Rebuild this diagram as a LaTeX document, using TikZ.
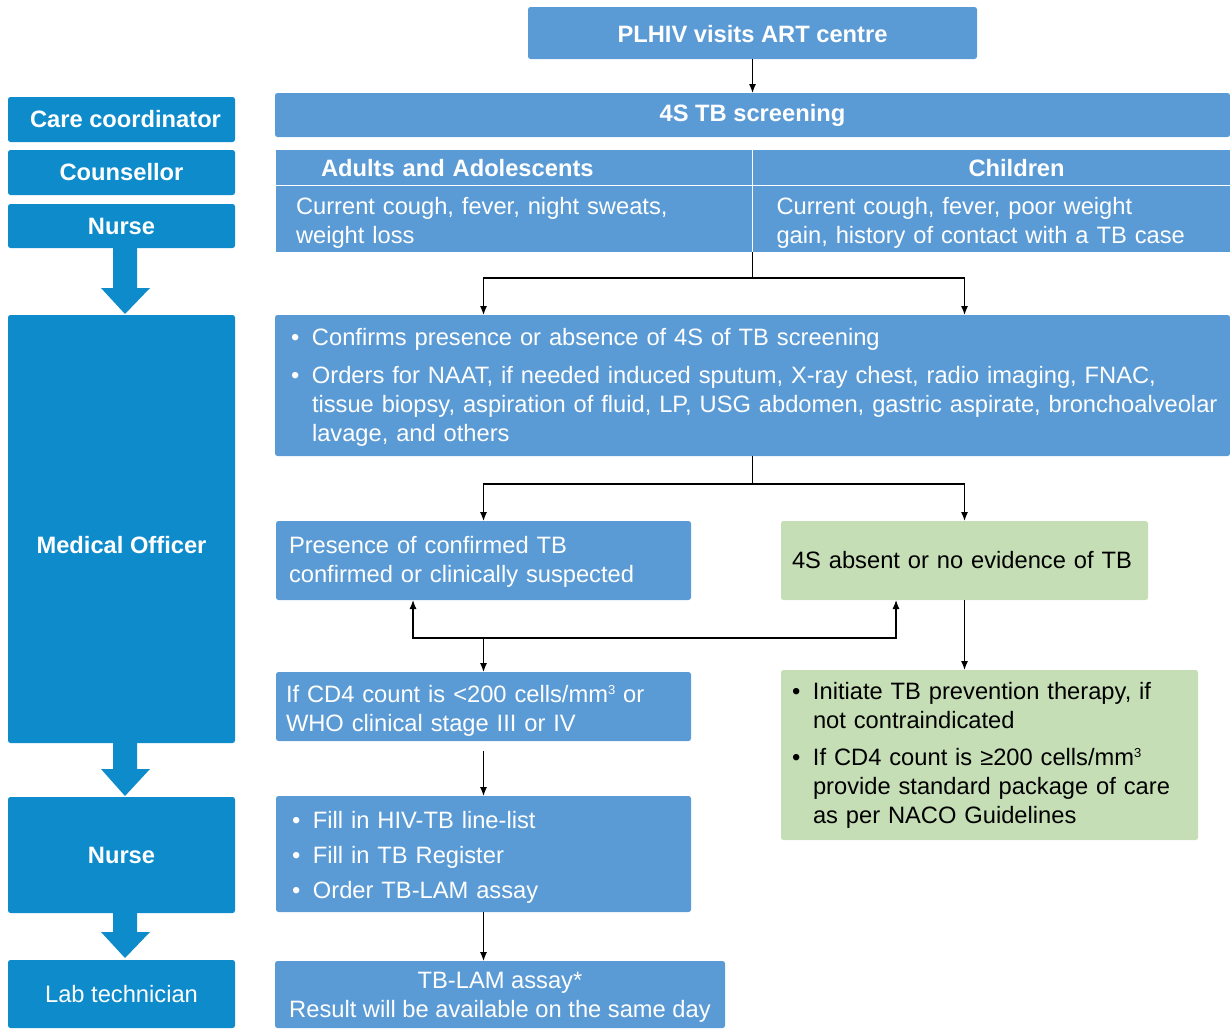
\documentclass[tikz,border=0pt]{standalone}
\usepackage{fontspec}
\setmainfont{Liberation Sans}
\usetikzlibrary{arrows.meta,calc}
\definecolor{lblue}{HTML}{0D8BCB}
\definecolor{rblue}{HTML}{5B9BD5}
\definecolor{lgreen}{HTML}{C5DEB5}
\newcommand\bul{\par\noindent\hangindent=21pt\hangafter=1\makebox[21pt][l]{•}}
\newcommand\cubed{\raisebox{8pt}{\fontsize{13}{13}\selectfont 3}}
\newcommand\fs{\fontsize{23.7}{29}\selectfont}
\newcommand\tall[1]{\rule{0pt}{#1}}
\newcommand\deep[1]{\rule[-#1]{0pt}{0pt}}
\tikzset{
  base/.style={rounded corners=2.5pt, inner sep=0pt, outer sep=0pt, anchor=north west, font=\fs},
  lbox/.style={base, fill=lblue, text=white, align=center, font=\fs\bfseries},
  rbox/.style={base, fill=rblue, text=white},
  gbox/.style={base, fill=lgreen, text=black},
  cell/.style={fill=rblue, text=white, draw=white, line width=1pt, inner sep=0pt, outer sep=0pt, anchor=north west, align=left, font=\fs},
  arr/.style={line width=1.2pt, -{Latex[length=9pt,width=7pt]}},
  ln/.style={line width=1.2pt},
}
\begin{document}
\begin{tikzpicture}[x=1pt,y=-1pt]
\useasboundingbox (0,0) rectangle (1230,1028);
% left column
\node[lbox, minimum width=227pt, minimum height=45pt] (cc) at (8,97) {\hspace*{8pt}Care coordinator};
\node[lbox, minimum width=227pt, minimum height=45pt] (cou) at (8,150) {Counsellor};
\node[lbox, minimum width=227pt, minimum height=44pt] (nur1) at (8,204) {Nurse};
\node[lbox, minimum width=227pt, minimum height=428pt] (mo) at (8,315) {};
\node[font=\fs\bfseries, text=white, inner sep=0pt] (molab) at (121.5,545) {Medical Officer};
\node[lbox, minimum width=227pt, minimum height=116pt] (nur2) at (8,797) {Nurse};
\node[lbox, font=\fs, minimum width=227pt, minimum height=68pt] (lab) at (8,960) {Lab technician};
% block arrows
\fill[lblue] (113,247) -- (137,247) -- (137,288) -- (150,288) -- (125,314) -- (101,288) -- (113,288) -- cycle;
\fill[lblue] (113,742) -- (137,742) -- (137,769) -- (150,769) -- (125,796) -- (101,769) -- (113,769) -- cycle;
\fill[lblue] (113,912) -- (137,912) -- (137,932) -- (150,932) -- (125,958) -- (101,932) -- (113,932) -- cycle;
% right column
\node[rbox, align=center, font=\fs\bfseries, minimum width=449pt, minimum height=52pt] (plhiv) at (528,7) {\tall{19pt}PLHIV visits ART centre};
\node[rbox, align=center, font=\fs\bfseries, minimum width=955pt, minimum height=44pt] (screen) at (275,93) {4S TB screening};
\node[cell, font=\fs\bfseries, text width=477.5pt, minimum height=36pt] (adh) at (275,149) {\leftskip=46pt \tall{19.3pt}Adults and Adolescents\par};
\node[cell, font=\fs\bfseries, text width=477.5pt, minimum height=36pt] (chh) at (752.5,149) {\leftskip=216pt \tall{19.3pt}Children\par};
\node[cell, text width=477.5pt, minimum height=67pt] (adb) at (275,185) {\leftskip=21pt \tall{25.3pt}Current cough, fever, night sweats,\newline weight loss\par};
\node[cell, text width=477.5pt, minimum height=67pt] (chb) at (752.5,185) {\leftskip=24pt \tall{25.3pt}Current cough, fever, poor weight\newline gain, history of contact with a TB case\par};
\node[rbox, align=left, text width=955pt, minimum height=141pt] (bigbox) at (275,315) {\leftskip=16pt\parskip=0pt
\bul Confirms presence or absence of 4S of TB screening\parskip=9pt
\bul Orders for NAAT, if needed induced sputum, X-ray chest, radio imaging, FNAC,\newline tissue biopsy, aspiration of fluid, LP, USG abdomen, gastric aspirate, bronchoalveolar\newline lavage, and others\deep{13pt}\par};
\node[rbox, align=left, text width=415pt, minimum height=79pt] (presence) at (276,521) {\leftskip=13pt \tall{19pt}Presence of confirmed TB\newline confirmed or clinically suspected\par};
\node[gbox, align=left, text width=367pt, minimum height=79pt] (absent) at (781,521) {\leftskip=11pt 4S absent or no evidence of TB\par};
\node[rbox, align=left, text width=415pt, minimum height=69pt] (cd4) at (276,672) {\leftskip=10pt \tall{25.3pt}If CD4 count is <200 cells/mm\cubed{} or\newline WHO clinical stage III or IV\par};
\node[gbox, align=left, text width=417pt, minimum height=168pt] (glist) at (781,670) {\leftskip=11pt\parskip=0pt
\bul Initiate TB prevention therapy, if\newline not contraindicated\parskip=8pt
\bul If CD4 count is ≥200 cells/mm\cubed\newline provide standard package of care\newline as per NACO Guidelines\deep{17pt}\par};
\node[rbox, align=left, text width=415pt, minimum height=116pt] (nlist) at (276,796) {\leftskip=16pt\parskip=0pt
\bul Fill in HIV-TB line-list\parskip=6pt
\bul Fill in TB Register
\bul Order TB-LAM assay\deep{11pt}\par};
\node[rbox, align=center, minimum width=450pt, minimum height=67pt] (tblam) at (275,961) {\tall{21.3pt}TB-LAM assay*\\Result will be available on the same day};
% connectors
\draw[arr] (plhiv.south) -- (screen.north);
\coordinate (j1) at ($(adb.south east)+(0,26)$);
\draw[ln] (adb.south east) -- (j1);
\draw[arr] (j1) -| (bigbox.north -| presence.north);
\draw[arr] (j1) -| (bigbox.north -| absent.north);
\coordinate (j2) at ($(bigbox.south)+(0,28)$);
\draw[ln] (bigbox.south) -- (j2);
\draw[arr] (j2) -| (presence.north);
\draw[arr] (j2) -| (absent.north);
\coordinate (j3) at ($(presence.south)+(0,38)$);
\draw[arr] (j3) -- (cd4.north);
\draw[arr] (j3) -| ([xshift=-70.5pt]presence.south);
\draw[arr] (j3) -| ([xshift=-68.5pt]absent.south);
\draw[arr] (absent.south) -- (absent.south |- glist.north);
\draw[arr, shorten <=10pt] (cd4.south) -- (nlist.north);
\draw[arr] (nlist.south) -- (nlist.south |- tblam.north);
\end{tikzpicture}
\end{document}
